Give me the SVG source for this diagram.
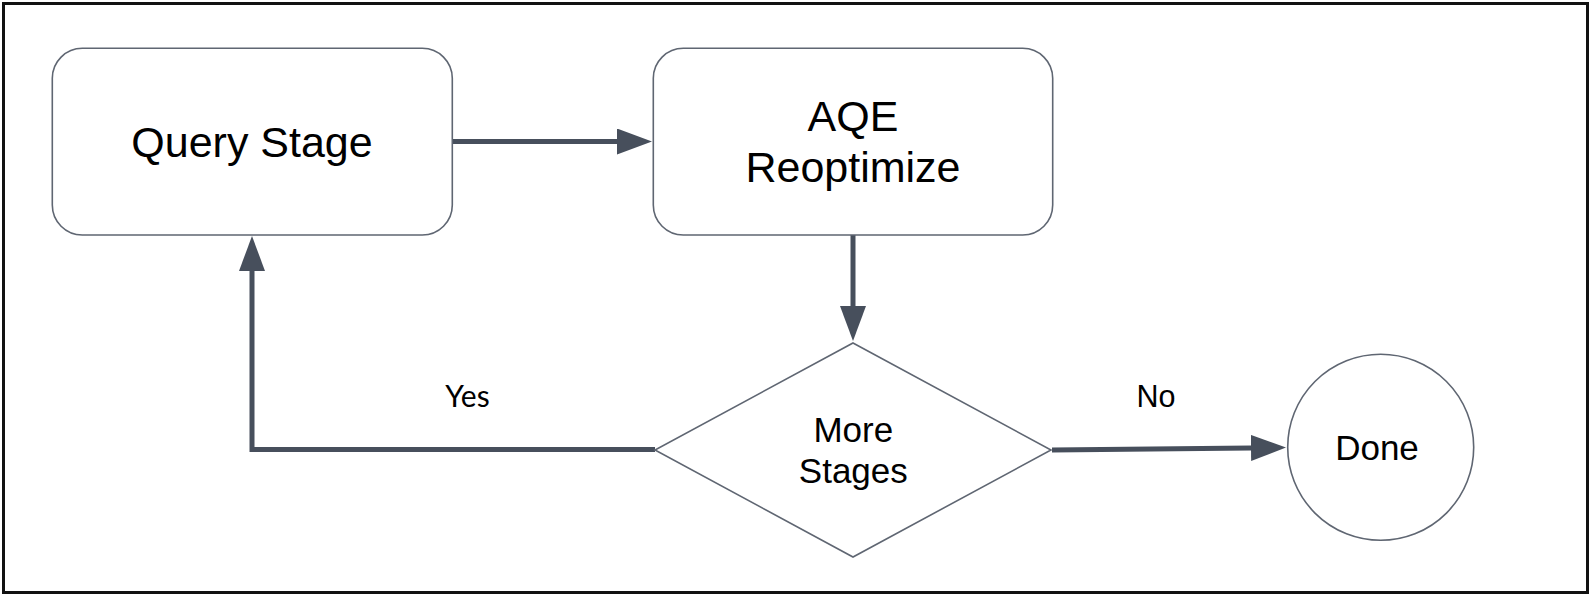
<svg xmlns="http://www.w3.org/2000/svg" width="1594" height="598" viewBox="0 0 1594 598">
  <style>
    .box { fill: #ffffff; stroke: #5f6672; stroke-width: 1.6; }
    .lbl { font-family: "Liberation Sans", Arial, sans-serif; fill: #000000; text-anchor: middle; }
    .conn { fill: none; stroke: #474f5c; stroke-width: 5; stroke-linejoin: miter; }
  </style>
  <defs>
    <marker id="arrow" markerUnits="userSpaceOnUse" viewBox="0 0 35 26" refX="0" refY="13" markerWidth="35" markerHeight="26" orient="auto">
      <path d="M0,0 L35,13 L0,26 Z" fill="#474f5c"/>
    </marker>
  </defs>
  <rect x="0" y="0" width="1594" height="598" fill="#ffffff"/>
  <rect id="frame" x="3.5" y="3.5" width="1584" height="589" fill="none" stroke="#111111" stroke-width="3"/>

  <g id="connectors">
    <path class="conn" d="M452,141.5 L617,141.5" marker-end="url(#arrow)"/>
    <path class="conn" d="M853,235 L853,306" marker-end="url(#arrow)"/>
    <path class="conn" d="M655,449.5 L252,449.5 L252,271" marker-end="url(#arrow)"/>
    <path class="conn" d="M1052,450 L1251,447.9" marker-end="url(#arrow)"/>
    <text class="lbl" x="467.5" y="406.5" font-size="30" style="font-family: Lato, 'Open Sans', sans-serif;">Yes</text>
    <text class="lbl" x="1156" y="406.5" font-size="30.5">No</text>
  </g>

  <g id="query-stage">
    <rect class="box" x="52.3" y="48.3" width="400" height="186.7" rx="30" ry="30"/>
    <text class="lbl" x="252" y="156.7" font-size="43">Query Stage</text>
  </g>

  <g id="aqe-reoptimize">
    <rect class="box" x="653.3" y="48.3" width="399.4" height="186.7" rx="30" ry="30"/>
    <text class="lbl" x="853" y="130.7" font-size="43">AQE</text>
    <text class="lbl" x="853" y="181.7" font-size="43">Reoptimize</text>
  </g>

  <g id="more-stages">
    <polygon class="box" points="853,343 1051,450 853,557 655,450"/>
    <text class="lbl" x="853.3" y="441.7" font-size="35">More</text>
    <text class="lbl" x="853.3" y="483.3" font-size="35">Stages</text>
  </g>

  <g id="done">
    <circle class="box" cx="1380.7" cy="447.3" r="93"/>
    <text class="lbl" x="1377" y="460" font-size="35">Done</text>
  </g>
</svg>
